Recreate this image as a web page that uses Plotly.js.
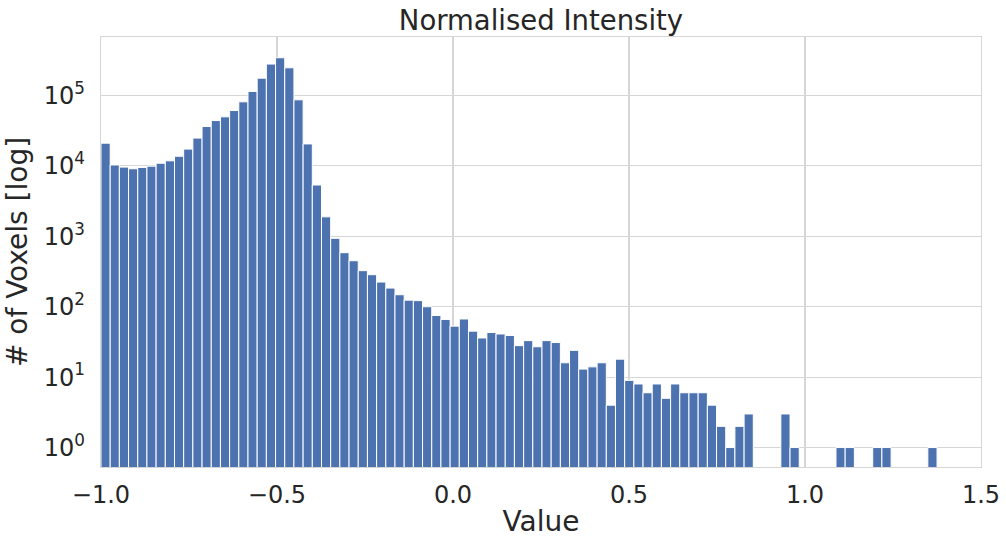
<!DOCTYPE html>
<html>
<head>
<meta charset="utf-8">
<script src="https://cdn.plot.ly/plotly-3.0.1.min.js"></script>
<style>
html,body{margin:0;padding:0;background:#fff;}
#chart{width:1006px;height:538px;}
</style>
</head>
<body>
<div id="chart"></div>
<script>
// Histogram bins: start value and bin width
const binStart = -1.0;
const binWidth = 0.0261;
// Voxel counts per bin (0 = empty bin)
const counts = [
  21000, 10300, 9600, 9100, 9500, 9900, 10900, 11800, 13700, 17300,
  24800, 36200, 44000, 49700, 61100, 81200, 114000, 176000, 279000, 343000,
  247000, 86700, 20500, 5350, 1890, 936, 585, 450, 325, 285,
  224, 184, 148, 124, 122, 100, 75, 66, 53, 67,
  45, 36, 43, 41, 39, 28, 33, 27, 33, 31,
  16, 24, 13, 14, 16, 4, 18, 9, 8, 6,
  8, 5, 8, 6, 6, 6, 4, 2, 1, 2,
  3, 0, 0, 0, 3, 1, 0, 0, 0, 0,
  1, 1, 0, 0, 1, 1, 0, 0, 0, 0,
  1
];
const xTickVals = [-1.0, -0.5, 0.0, 0.5, 1.0, 1.5];
const yTickVals = [1, 10, 100, 1000, 10000, 100000];
const yTickText = ['10<sup>0</sup>','10<sup>1</sup>','10<sup>2</sup>','10<sup>3</sup>','10<sup>4</sup>','10<sup>5</sup>'];

const centers = counts.map((c, i) => binStart + (i + 0.5) * binWidth);
const yvals = counts.map(c => c > 0 ? c : null);

const FONT = 'DejaVu Sans, sans-serif';
const TXT = '#262626';
const GRID = '#d6d6d6';

const trace = {
  type: 'bar',
  x: centers,
  y: yvals,
  width: counts.map(() => binWidth),
  marker: {color: '#4c72b0', line: {color: '#ffffff', width: 1}},
  hoverinfo: 'skip'
};

const layout = {
  width: 1006, height: 538,
  margin: {l: 101, r: 25, t: 37, b: 71, pad: 0},
  paper_bgcolor: '#ffffff', plot_bgcolor: '#ffffff',
  showlegend: false,
  bargap: 0,
  font: {family: FONT, color: TXT},
  title: {text: 'Normalised Intensity', font: {size: 27.5, family: FONT, color: TXT},
          x: 0.5, xref: 'paper', xanchor: 'center', y: 1 - 20/538, yref: 'container', yanchor: 'middle'},
  xaxis: {
    range: [-1.0, 1.5],
    tickmode: 'array', tickvals: xTickVals, ticktext: xTickVals.map(v => (v < 0 ? '\u2212' : '') + Math.abs(v).toFixed(1)),
    tickfont: {size: 24, family: FONT, color: TXT},
    showgrid: true, gridcolor: GRID, gridwidth: 1.1,
    showline: true, linecolor: GRID, linewidth: 1.2, mirror: true,
    zeroline: false, ticks: '', ticklabelstandoff: 6,
    title: {text: 'Value', font: {size: 28, family: FONT, color: TXT}, standoff: 7},
    automargin: false
  },
  yaxis: {
    type: 'log',
    range: [-0.276, 5.83],
    tickmode: 'array', tickvals: yTickVals, ticktext: yTickText,
    tickfont: {size: 24, family: FONT, color: TXT},
    showgrid: true, gridcolor: GRID, gridwidth: 1.1,
    showline: true, linecolor: GRID, linewidth: 1.2, mirror: true,
    zeroline: false, ticks: '', ticklabelstandoff: 10,
    title: {text: '# of Voxels [log]', font: {size: 28, family: FONT, color: TXT}, standoff: 8},
    automargin: false
  }
};

Plotly.newPlot('chart', [trace], layout, {displayModeBar: false, staticPlot: true});
</script>
</body>
</html>
